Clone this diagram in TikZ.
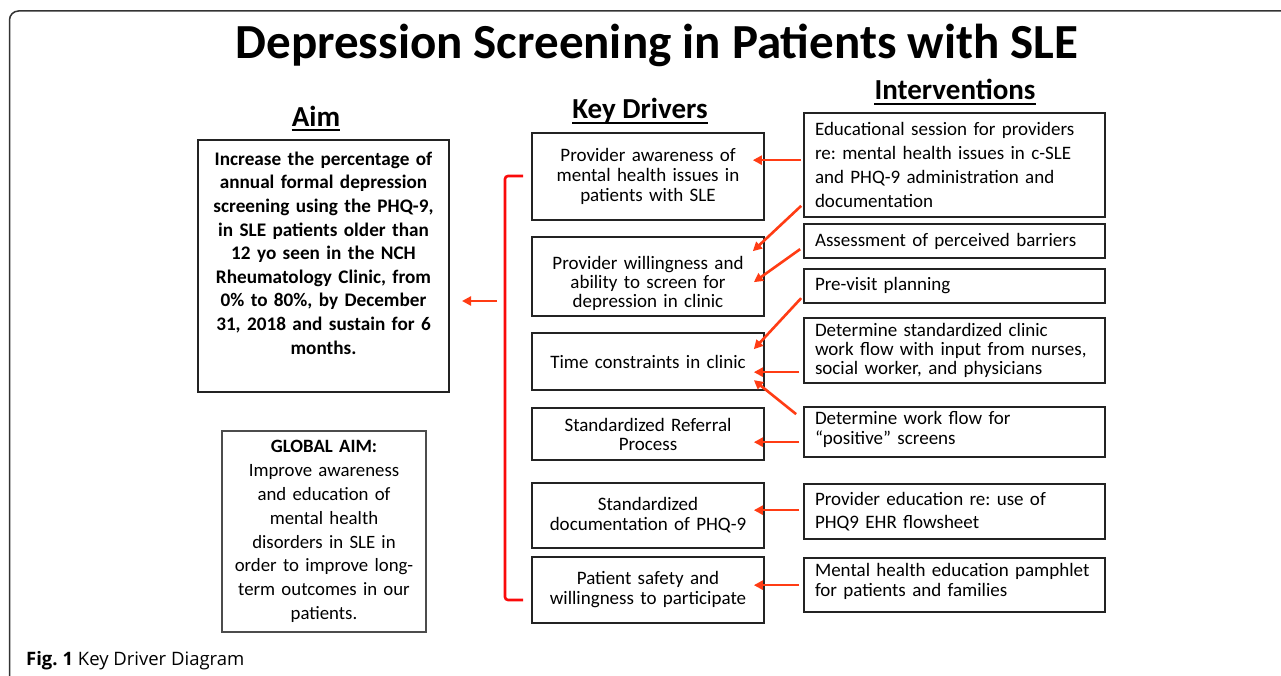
\documentclass[tikz,border=0pt]{standalone}
\usepackage{fontspec}
\setmainfont{Carlito}
\newfontfamily\capfont{Open Sans}
\usetikzlibrary{arrows.meta,calc}
\definecolor{arrred}{RGB}{255,60,20}
\definecolor{brkred}{RGB}{250,10,10}
\definecolor{boxline}{RGB}{35,35,35}
\frenchspacing
\tikzset{
  kd/.style={draw=boxline, line width=1.7pt, minimum width=232pt, text width=222pt,
    inner xsep=5pt, inner ysep=2pt, align=center, font=\fontsize{19}{20}\selectfont},
  iv/.style={draw=boxline, line width=1.7pt, minimum width=301pt, text width=279pt,
    inner xsep=11pt, inner ysep=2pt, align=left, font=\fontsize{19}{20}\selectfont},
  head/.style={font=\bfseries\fontsize{29}{32}\selectfont, inner sep=0pt, anchor=base},
  ul/.style={line width=2pt, black},
  arr/.style={draw=arrred, line width=2.6pt, -{Triangle[length=9pt,width=9pt]}},
  brk/.style={draw=brkred, line width=2.6pt, rounded corners=3pt},
}
\begin{document}
\begin{tikzpicture}[x=1pt,y=-1pt]
\fill[white] (0,0) rectangle (1281,676);
\useasboundingbox (0,0) rectangle (1281,676);
% outer frame
\draw[line width=1.5pt, black!80, rounded corners=9pt] (9.5,680) -- (9.5,11) -- (1285,11);
% title
\node[anchor=base, inner sep=0pt, font=\bfseries\fontsize{49}{54}\selectfont] (title) at (657,59) {Depression Screening in Patients with SLE};
% headings
\node[head] (haim) at (316,127) {Aim};
\draw[ul] ([yshift=-3pt]haim.base west) -- ([yshift=-3pt]haim.base east);
\node[head] (hkd) at (640,119) {Key Drivers};
\draw[ul] ([yshift=-4pt]hkd.base west) -- ([yshift=-4pt]hkd.base east);
\node[head] (hiv) at (955,100) {Interventions};
\draw[ul] ([yshift=-4.5pt]hiv.base west) -- ([yshift=-4.5pt]hiv.base east);
% aim box
\node[draw=boxline, line width=2pt, minimum width=251pt, minimum height=252pt, text width=244pt,
  inner xsep=3.5pt, align=center, font=\bfseries\fontsize{19.2}{23.6}\selectfont] (aim) at (323.5,266)
  {Increase the percentage of\\ annual formal depression\\ screening using the PHQ-9,\\ in SLE patients older than\\ 12 yo seen in the NCH\\ Rheumatology Clinic, from\\ 0\% to 80\%, by December\\ 31, 2018 and sustain for 6\\ months.\rule[-26pt]{0pt}{0pt}};
% global aim
\node[draw=black!70, line width=1.2pt, minimum width=204pt, minimum height=201pt, text width=200pt,
  inner xsep=2pt, align=center, font=\fontsize{18.8}{23.8}\selectfont] (glob) at (324,531.5)
  {\textbf{GLOBAL AIM:}\\ Improve awareness\\ and education of\\ mental health\\ disorders in SLE in\\ order to improve long-\\ term outcomes in our\\ patients.};
% key drivers
\node[kd, minimum height=87pt] (b1) at (648,176.5) {Provider awareness of\\ mental health issues in\\ patients with SLE};
\node[kd, minimum height=79pt, font=\fontsize{19}{19}\selectfont] (b2) at (648,276.5) {\rule{0pt}{28pt}Provider willingness and\\ ability to screen for\\ depression in clinic};
\node[kd, minimum height=57pt] (b3) at (648,361.5) {Time constraints in clinic};
\node[kd, minimum height=52pt, font=\fontsize{19}{19}\selectfont] (b4) at (648,434) {Standardized Referral\\ Process};
\node[kd, minimum height=65pt] (b5) at (648,515.5) {Standardized\\ documentation of PHQ-9};
\node[kd, minimum height=66pt] (b6) at (648,590) {Patient safety and\\ willingness to participate};
% interventions
\node[iv, minimum height=104pt, font=\fontsize{19}{23.7}\selectfont] (i1) at (954.5,165) {\mbox{Educational session for providers}\\ \mbox{re: mental health issues in c-SLE}\\ \mbox{and PHQ-9 administration and}\\ documentation};
\node[iv, minimum height=34pt] (i2) at (954.5,241) {\mbox{Assessment of perceived barriers}};
\node[iv, minimum height=34pt] (i3) at (954.5,286) {Pre-visit planning};
\node[iv, minimum height=65pt, font=\fontsize{19}{19}\selectfont] (i4) at (954.5,350.5) {\mbox{Determine standardized clinic}\\ \mbox{work flow with input from nurses,}\\ \mbox{social worker, and physicians}};
\node[iv, minimum height=50pt] (i5) at (954.5,432) {Determine work flow for\\ “positive” screens\rule[-8pt]{0pt}{0pt}};
\node[iv, minimum height=55pt, font=\fontsize{19}{23}\selectfont] (i6) at (954.5,511.5) {\mbox{Provider education re: use of}\\ PHQ9 EHR flowsheet};
\node[iv, minimum height=54pt] (i7) at (954.5,585) {\mbox{Mental health education pamphlet}\\ for patients and families\rule[-10pt]{0pt}{0pt}};
% arrows interventions -> drivers
\draw[arr] ($(i1.north west)+(-2,48)$) -- ($(b1.north east)+(-12,28)$);
\draw[arr] ($(i1.south west)+(-2,-12)$) -- ($(b2.north east)+(-12,15)$);
\draw[arr] ($(i2.north west)+(-3,26)$) -- ($(b2.north east)+(-11,46)$);
\draw[arr] ($(i3.north west)+(-2,30)$) -- ($(b3.north east)+(-11,17)$);
\draw[arr] ($(i4.north west)+(-4,55)$) -- ($(b3.north east)+(-11,40)$);
\draw[arr] ($(i5.north west)+(-7,8)$) -- ($(b3.north east)+(-11,48)$);
\draw[arr] ($(i5.north west)+(-4,36)$) -- ($(b4.north east)+(-11,35)$);
\draw[arr] ($(i6.north west)+(-4,27)$) -- ($(b5.north east)+(-11,28)$);
\draw[arr] ($(i7.north west)+(-4,28)$) -- ($(b6.north east)+(-11,29)$);
% bracket and arrow to aim
\coordinate (btop) at (523,176);
\coordinate (bbot) at (523,600);
\coordinate (bmid) at (497,301);
\draw[brk] (btop) -- ++(-18,0) |- (bbot);
\draw[arr] (bmid) -- ($(aim.east |- bmid)+(12,0)$);
% caption
\node[anchor=base west, inner sep=0pt, font=\capfont\fontsize{18.5}{21}\selectfont] (cap) at (26,665) {\textbf{Fig. 1} Key Driver Diagram};
\end{tikzpicture}
\end{document}
